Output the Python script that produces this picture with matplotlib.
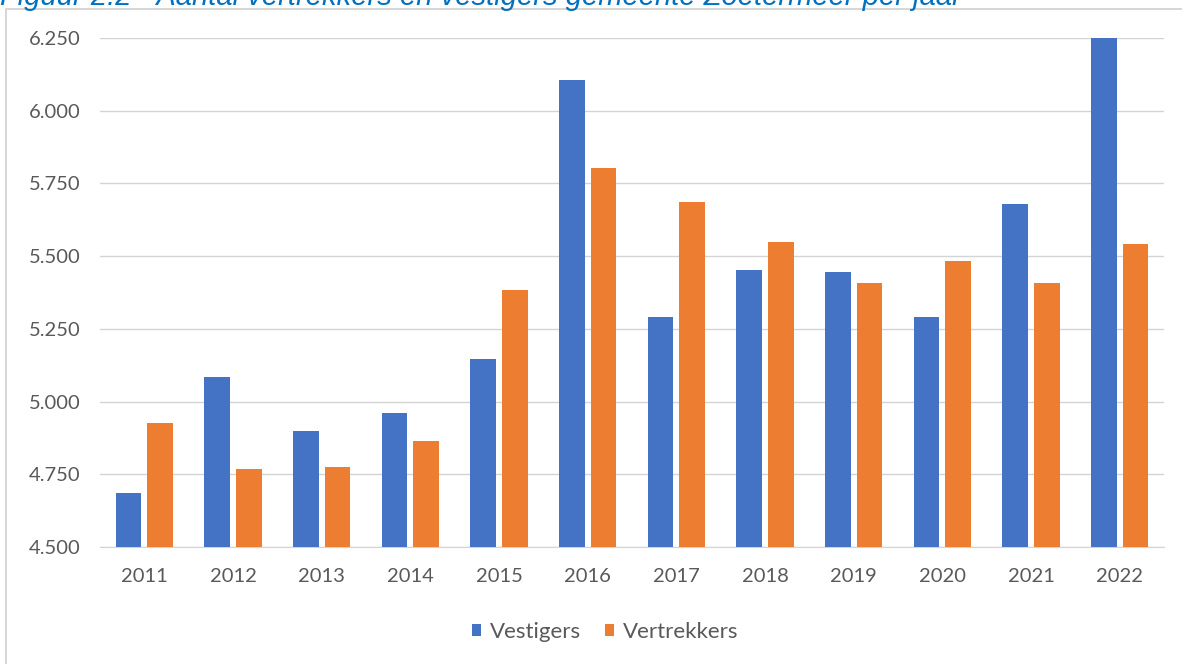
import numpy as np
import matplotlib
matplotlib.use('Agg')
import matplotlib.pyplot as plt
from matplotlib.patches import Rectangle

years = ['2011', '2012', '2013', '2014', '2015', '2016',
         '2017', '2018', '2019', '2020', '2021', '2022']
vestigers = [4686, 5083, 4899, 4961, 5145, 6107, 5291, 5452, 5445, 5291, 5680, 6250]
vertrekkers = [4926, 4768, 4776, 4864, 5384, 5802, 5687, 5548, 5407, 5485, 5407, 5541]
yticks = [4500, 4750, 5000, 5250, 5500, 5750, 6000, 6250]

plt.rcParams['font.family'] = ['Lato', 'DejaVu Sans']
fig = plt.figure(figsize=(11.82, 6.64), dpi=100)
ax = fig.add_axes([100 / 1182, 1 - 547 / 664, 1064 / 1182, 509 / 664])

x = np.arange(len(years))
w = 0.29
ax.bar(x - 0.18, vestigers, w, color='#4472C4', label='Vestigers', zorder=3)
ax.bar(x + 0.18, vertrekkers, w, color='#ED7D31', label='Vertrekkers', zorder=3)

ax.set_xlim(-0.5, 11.5)
ax.set_ylim(4500, 6250)
ax.set_yticks(yticks)
ax.set_yticklabels([f'{v/1000:.3f}' for v in yticks])
ax.set_xticks(x)
ax.set_xticklabels(years)
ax.tick_params(length=0, labelsize=14.5, colors='#595959')
ax.tick_params(axis='y', pad=14)
ax.tick_params(axis='x', pad=15)
ax.grid(axis='y', color='#D4D4D4', lw=1, zorder=0)
for s in ['top', 'right', 'left']:
    ax.spines[s].set_visible(False)
ax.spines['bottom'].set_color('#D4D4D4')

fig.legend(loc='center', bbox_to_anchor=(605 / 1182, 1 - 632 / 664), ncol=2, frameon=False,
           fontsize=16, labelcolor='#595959', handlelength=0.4, handleheight=0.45,
           handletextpad=0.4, columnspacing=1.1)

# outer chart frame
fig.patches.append(Rectangle((6 / 1182, -0.05), 1.1, 1 - 9 / 664 + 0.05,
                             transform=fig.transFigure, fill=False,
                             edgecolor='#D0D0D0', lw=1.2))

fig.text(0, 1 - 5 / 664, 'Figuur 2.2 - Aantal vertrekkers en vestigers gemeente Zoetermeer per jaar',
         color='#0070C0', fontsize=21, style='italic', family='Liberation Sans',
         va='baseline', ha='left')

fig.savefig('out.png', dpi=100)
